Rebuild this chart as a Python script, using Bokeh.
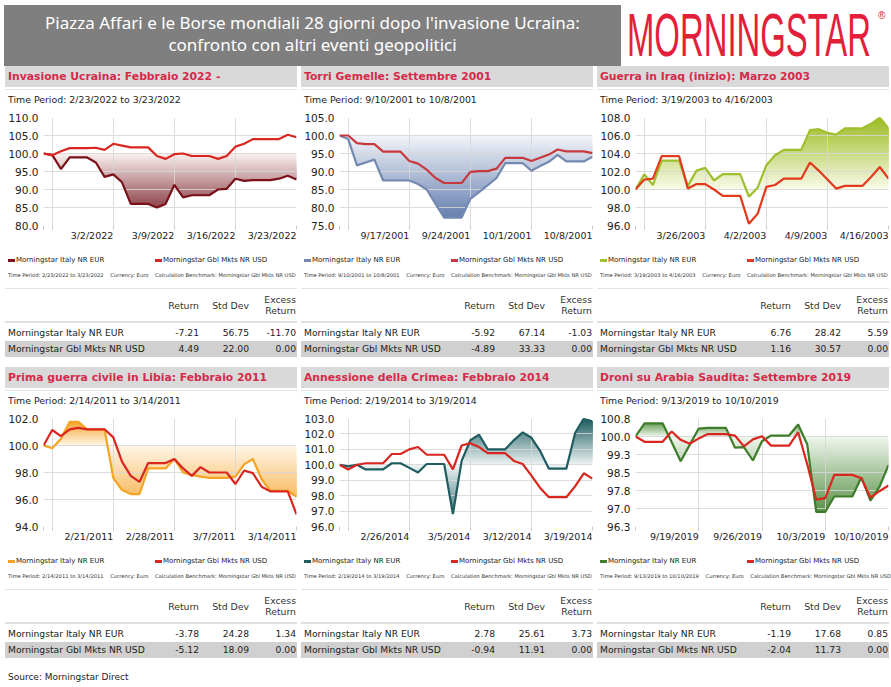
import numpy as np
import pandas as pd
from bokeh.plotting import figure
from bokeh.layouts import column, row
from bokeh.models import Div, Range1d, FixedTicker, NumeralTickFormatter
from bokeh.embed import file_html
from bokeh.resources import INLINE

# ---------------- texts ----------------
HEADLINE = ["Piazza Affari e le Borse mondiali 28 giorni dopo l'invasione Ucraina:",
            "confronto con altri eventi geopolitici"]
BRAND = "MORNINGSTAR"
SOURCE = "Source: Morningstar Direct"
SERIES = ["Morningstar Italy NR EUR", "Morningstar Gbl Mkts NR USD"]
HEAD_RETURN = "Return"
HEAD_STD = "Std Dev"
HEAD_EXCESS = ["Excess", "Return"]

TITLES = ["Invasione Ucraina: Febbraio 2022 -",
          "Torri Gemelle: Settembre 2001",
          "Guerra in Iraq (inizio): Marzo 2003",
          "Prima guerra civile in Libia: Febbraio 2011",
          "Annessione della Crimea: Febbraio 2014",
          "Droni su Arabia Saudita: Settembre 2019"]
PERIOD_FROM = ["2/23/2022", "9/10/2001", "3/19/2003", "2/14/2011", "2/19/2014", "9/13/2019"]
PERIOD_TO = ["3/23/2022", "10/8/2001", "4/16/2003", "3/14/2011", "3/19/2014", "10/10/2019"]

# first calendar day drawn (base = 100) and weekly labelled ticks
AXIS_START = ["2022-02-22", "2001-09-09", "2003-03-18", "2011-02-13", "2014-02-18", "2019-09-12"]
START_GRID = [True, True, True, True, True, False]
WEEK_TICKS = [["2022-03-02", "2022-03-09", "2022-03-16", "2022-03-23"],
              ["2001-09-17", "2001-09-24", "2001-10-01", "2001-10-08"],
              ["2003-03-26", "2003-04-02", "2003-04-09", "2003-04-16"],
              ["2011-02-21", "2011-02-28", "2011-03-07", "2011-03-14"],
              ["2014-02-26", "2014-03-05", "2014-03-12", "2014-03-19"],
              ["2019-09-19", "2019-09-26", "2019-10-03", "2019-10-10"]]

Y_TICKS = [[80, 85, 90, 95, 100, 105, 110],
           [75, 80, 85, 90, 95, 100, 105],
           [96, 98, 100, 102, 104, 106, 108],
           [94, 96, 98, 100, 102],
           [96, 97, 98, 99, 100, 101, 102, 103],
           [96.25, 97.0, 97.75, 98.5, 99.25, 100.0, 100.75]]
Y_LABELS = [["80.0", "85.0", "90.0", "95.0", "100.0", "105.0", "110.0"],
            ["75.0", "80.0", "85.0", "90.0", "95.0", "100.0", "105.0"],
            ["96.0", "98.0", "100.0", "102.0", "104.0", "106.0", "108.0"],
            ["94.0", "96.0", "98.0", "100.0", "102.0"],
            ["96.0", "97.0", "98.0", "99.0", "100.0", "101.0", "102.0", "103.0"],
            ["96.3", "97.0", "97.8", "98.5", "99.3", "100.0", "100.8"]]

# ---------------- series (daily, base 100) ----------------
ITALY_UKRAINE = [100.0, 99.6, 95.7, 98.9, 98.9, 98.9, 97.5, 93.5, 94.2, 92.0, 86.0, 86.0, 86.0, 85.0, 86.0,
                 91.3, 87.8, 88.4, 88.4, 88.4, 90.0, 90.2, 93.0, 92.4, 92.6, 92.6, 92.6, 93.0, 93.8, 92.8]
GBL_UKRAINE = [100.0, 99.5, 100.6, 101.5, 101.5, 101.5, 101.6, 101.0, 102.7, 102.2, 101.7, 101.7, 101.7, 99.3, 98.5,
               99.8, 100.0, 99.3, 99.3, 99.3, 98.5, 99.3, 101.9, 102.7, 104.0, 104.0, 104.0, 104.0, 105.2, 104.5]
ITALY_TWIN_TOWERS = [100.0, 99.0, 91.7, 92.5, 93.3, 87.5, 87.5, 87.5, 87.5, 86.5, 85.0, 81.0, 77.2, 77.2, 77.2,
                     82.4, 84.3, 86.2, 88.2, 92.3, 92.3, 92.3, 90.2, 91.5, 92.7, 94.6, 92.8, 92.8, 92.8, 94.1]
GBL_TWIN_TOWERS = [100.0, 100.0, 97.9, 97.6, 97.6, 95.5, 95.5, 95.5, 92.9, 92.2, 90.5, 88.2, 86.8, 86.8, 86.8,
                   89.9, 90.1, 90.1, 90.8, 93.8, 93.8, 93.8, 92.9, 93.8, 94.7, 96.1, 95.6, 95.6, 95.6, 95.1]
ITALY_IRAQ = [100.0, 101.7, 100.5, 103.2, 103.2, 103.2, 100.4, 102.1, 102.4, 101.0, 101.7, 101.7, 101.7, 99.2, 100.2,
              102.7, 103.8, 104.4, 104.4, 104.4, 106.6, 106.7, 106.3, 106.1, 106.8, 106.8, 106.8, 107.3, 108.0, 106.8]
GBL_IRAQ = [100.0, 101.1, 101.2, 103.7, 103.7, 103.7, 100.1, 100.6, 100.6, 100.0, 99.3, 99.3, 99.3, 96.2, 97.3,
            100.3, 100.5, 101.2, 101.2, 101.2, 103.0, 102.1, 101.1, 100.1, 100.4, 100.4, 100.4, 101.4, 102.5, 101.2]
ITALY_LIBYA = [100.0, 99.8, 100.5, 101.75, 101.75, 101.2, 101.2, 101.2, 97.6, 96.7, 96.4, 96.4, 98.3, 98.3, 98.3,
               99.0, 98.0, 97.8, 97.7, 97.6, 97.6, 97.6, 97.7, 98.6, 99.0, 97.5, 96.65, 96.65, 96.65, 96.2]
GBL_LIBYA = [100.0, 101.15, 100.7, 101.2, 101.3, 101.2, 101.2, 101.2, 100.6, 98.8, 97.75, 97.3, 98.7, 98.7, 98.7,
             99.0, 98.3, 97.75, 98.4, 98.0, 98.0, 98.0, 97.15, 98.15, 97.95, 96.95, 96.6, 96.6, 96.6, 94.9]
ITALY_CRIMEA = [100.0, 99.9, 100.0, 99.7, 99.7, 99.7, 100.1, 100.1, 99.8, 99.5, 100.05, 100.05, 100.05, 96.8, 100.25,
                101.6, 101.95, 101.0, 101.0, 101.0, 101.6, 102.1, 101.75, 100.9, 99.75, 99.75, 99.75, 102.05, 103.0, 102.8]
GBL_CRIMEA = [100.0, 99.7, 100.0, 100.1, 100.1, 100.1, 100.7, 100.7, 101.0, 101.15, 100.65, 100.65, 100.65, 99.7, 101.25,
              101.4, 101.15, 100.75, 100.75, 100.75, 100.25, 100.05, 99.3, 98.5, 97.9, 97.9, 97.9, 98.6, 99.45, 99.1]
ITALY_DRONES = [100.0, 100.55, 100.55, 100.55, 99.77, 98.97, 99.65, 100.33, 100.36, 100.36, 100.36, 99.54, 99.56,
                99.0, 99.8, 100.04, 100.04, 100.04, 100.5, 99.68, 96.86, 96.86, 97.5, 97.5, 97.5, 98.3, 97.33, 97.9, 98.81]
GBL_DRONES = [100.0, 99.78, 99.78, 99.78, 100.21, 99.86, 99.7, 99.92, 100.1, 100.1, 100.1, 100.04, 99.59,
              99.88, 100.01, 99.62, 99.62, 99.62, 100.18, 98.85, 97.37, 97.43, 98.4, 98.4, 98.4, 98.26, 97.45, 97.72, 97.96]

ITALY = [ITALY_UKRAINE, ITALY_TWIN_TOWERS, ITALY_IRAQ, ITALY_LIBYA, ITALY_CRIMEA, ITALY_DRONES]
GBL = [GBL_UKRAINE, GBL_TWIN_TOWERS, GBL_IRAQ, GBL_LIBYA, GBL_CRIMEA, GBL_DRONES]

# ---------------- statistics tables ----------------
RETURN_ITALY = [-7.21, -5.92, 6.76, -3.78, 2.78, -1.19]
STD_ITALY = [56.75, 67.14, 28.42, 24.28, 25.61, 17.68]
EXCESS_ITALY = [-11.70, -1.03, 5.59, 1.34, 3.73, 0.85]
RETURN_GBL = [4.49, -4.89, 1.16, -5.12, -0.94, -2.04]
STD_GBL = [22.00, 33.33, 30.57, 18.09, 11.91, 11.73]
EXCESS_GBL = [0.00, 0.00, 0.00, 0.00, 0.00, 0.00]

# ---------------- colours ----------------
ITALY_LINE = ["#7a1119", "#7489b2", "#9fbf2c", "#f5a425", "#1f5d61", "#3e7d2a"]
FILL_LIGHT = ["#faf1f1", "#f2f5f9", "#f9fbea", "#fff6e8", "#eef4f4", "#f0f7ed"]
FILL_DARK = ["#690a11", "#5873a7", "#9cbb22", "#f49a14", "#1b5b5f", "#3b7e27"]
GBL_LINE = ["#d9261f", "#c8383f", "#e23a1c", "#d9261f", "#d9261f", "#d9261f"]
TITLE_RED = "#d52a4a"
BRAND_RED = "#e3203a"

PW = 292  # panel width
FONT = "DejaVu Sans"


def mix(c1, c2, f):
    a = [int(c1[i:i + 2], 16) for i in (1, 3, 5)]
    b = [int(c2[i:i + 2], 16) for i in (1, 3, 5)]
    return "#" + "".join(f"{int(round(x + (y - x) * f)):02x}" for x, y in zip(a, b))


def with_crossings(xs, s, level):
    """same polyline, with the points where it meets `level` made explicit"""
    px, py = [xs[0]], [s[0]]
    for k in range(len(s) - 1):
        a, b = s[k] - level, s[k + 1] - level
        if a * b < 0:
            f = a / (a - b)
            px.append(xs[k] + f * (xs[k + 1] - xs[k]))
            py.append(level)
        px.append(xs[k + 1])
        py.append(s[k + 1])
    return np.array(px), np.array(py)


def ms(d):
    return pd.Timestamp(d).value / 1e6


def md_label(d):
    t = pd.Timestamp(d)
    return f"{t.month}/{t.day}/{t.year}"


def make_chart(i):
    italy = np.array(ITALY[i], dtype=float)
    gbl = np.array(GBL[i], dtype=float)
    dates = pd.date_range(AXIS_START[i], periods=len(italy), freq="D")
    xs = np.array([ms(d) for d in dates])
    yt = Y_TICKS[i]
    lo, hi = yt[0], yt[-1]

    p = figure(width=PW, height=142, x_axis_type="datetime", output_backend="svg",
               toolbar_location=None, x_range=Range1d(xs[0], xs[-1]), y_range=Range1d(lo, hi),
               min_border_left=37, min_border_right=1, min_border_top=10, min_border_bottom=17,
               outline_line_color=None, background_fill_color="white", border_fill_color="white")

    # gradient fill between the index and the 100 base line (darker towards the plot edge)
    n = 40
    for edge, cmp in ((hi, np.maximum), (lo, np.minimum)):
        for k in range(n):
            level = 100 + (edge - 100) * k / n
            px, py = with_crossings(xs, italy, level)
            y2 = cmp(py, level)
            if np.allclose(y2, level):
                continue
            col = mix(FILL_LIGHT[i], FILL_DARK[i], (k + 0.5) / n)
            r = p.varea(x=px, y1=level, y2=y2, fill_color=col, fill_alpha=1.0)
            r.level = "image"

    p.line(xs, italy, line_color=ITALY_LINE[i], line_width=2.2)
    p.line(xs, gbl, line_color=GBL_LINE[i], line_width=2.2)

    # x axis: ticks / grid at the start and weekly; labels right-aligned on their tick
    week_ms = [ms(d) for d in WEEK_TICKS[i]]
    grid_ms = [float(xs[0])] + ([float(xs[1])] if START_GRID[i] else []) + week_ms
    p.xaxis.ticker = FixedTicker(ticks=grid_ms)
    p.xgrid.ticker = FixedTicker(ticks=grid_ms)
    ov = {t: "" for t in grid_ms}
    for d, t in zip(WEEK_TICKS[i], week_ms):
        ov[t] = md_label(d)
    p.xaxis.major_label_overrides = ov
    p.xaxis.major_label_orientation = 0.0  # numeric orientation -> labels end at their tick
    p.xaxis.major_label_text_font = FONT
    p.xaxis.major_label_text_font_size = "9.5px"
    p.xaxis.major_label_text_color = "#222222"
    p.xaxis.major_label_standoff = 6
    p.xaxis.axis_line_color = None
    p.xaxis.major_tick_line_color = "#c8c8c8"
    p.xaxis.major_tick_out = 4
    p.xaxis.major_tick_in = 0
    p.xaxis.minor_tick_line_color = None

    p.yaxis.ticker = FixedTicker(ticks=yt)
    p.yaxis.formatter = NumeralTickFormatter(format="0.0")
    p.yaxis.major_label_overrides = {float(t): lab for t, lab in zip(yt, Y_LABELS[i])}
    p.yaxis.axis_line_color = None
    p.yaxis.major_tick_line_color = None
    p.yaxis.minor_tick_line_color = None
    p.yaxis.major_tick_out = 0
    p.yaxis.major_tick_in = 0
    p.yaxis.major_label_standoff = 5
    p.yaxis.major_label_text_font = FONT
    p.yaxis.major_label_text_font_size = "10.5px"
    p.yaxis.major_label_text_color = "#222222"

    p.xgrid.grid_line_color = "#d6d6d6"
    p.ygrid.grid_line_color = "#d6d6d6"
    p.xgrid.grid_line_alpha = 0.85
    p.ygrid.grid_line_alpha = 0.85
    return p


def title_div(i):
    html = (f'<div style="width:{PW}px;height:21px;background:#d9d9d9;color:{TITLE_RED};'
            f'font-family:\'{FONT}\';font-weight:bold;font-size:10.8px;line-height:21px;'
            f'padding-left:3px;box-sizing:border-box;white-space:nowrap;overflow:hidden">{TITLES[i]}</div>'
            f'<div style="margin-top:2px;border-top:1px solid #e2e2e2;width:{PW}px;height:0"></div>')
    return Div(text=html, width=PW, height=25, margin=0)


def period_div(i):
    html = (f'<div style="font-family:\'{FONT}\';font-size:9.4px;line-height:16px;color:#222;'
            f'padding-left:3px;white-space:nowrap">Time Period: {PERIOD_FROM[i]} to {PERIOD_TO[i]}</div>')
    return Div(text=html, width=PW, height=16, margin=0)


def fmt(v):
    return f"{v:.2f}"


def bottom_div(i):
    f = f"font-family:'{FONT}';white-space:nowrap;position:absolute;"
    sw = "display:inline-block;width:7px;height:3px;vertical-align:middle;margin-right:1px;"
    small = (f"Time Period: {PERIOD_FROM[i]} to {PERIOD_TO[i]}&nbsp;&nbsp;&nbsp;&nbsp;Currency: Euro"
             f"&nbsp;&nbsp;&nbsp;&nbsp;Calculation Benchmark: {SERIES[1]}")
    rows = [(SERIES[0], RETURN_ITALY[i], STD_ITALY[i], EXCESS_ITALY[i], "transparent", 76),
            (SERIES[1], RETURN_GBL[i], STD_GBL[i], EXCESS_GBL[i], "#d0d0d0", 92)]
    html = f'<div style="position:relative;width:{PW}px;height:118px;color:#222">'
    html += (f'<div style="{f}left:3px;top:6px;font-size:7px;line-height:10px">'
             f'<span style="{sw}background:{ITALY_LINE[i]}"></span>{SERIES[0]}</div>')
    html += (f'<div style="{f}left:150px;top:6px;font-size:7px;line-height:10px">'
             f'<span style="{sw}background:{GBL_LINE[i]}"></span>{SERIES[1]}</div>')
    html += f'<div style="{f}left:3px;top:23px;font-size:5.2px;line-height:6px;color:#333">{small}</div>'
    html += f'<div style="position:absolute;left:0;top:39px;width:{PW}px;border-top:1px solid #e4e4e4"></div>'
    hs = f"{f}font-size:9.3px;line-height:11px;text-align:right;color:#333;"
    html += f'<div style="{hs}right:98px;top:51px">{HEAD_RETURN}</div>'
    html += f'<div style="{hs}right:48px;top:51px">{HEAD_STD}</div>'
    html += f'<div style="{hs}right:1px;top:45px">{HEAD_EXCESS[0]}<br>{HEAD_EXCESS[1]}</div>'
    html += f'<div style="position:absolute;left:0;top:72px;width:{PW}px;border-top:2px solid #e0e0e0"></div>'
    for name, r, s, e, bg, top in rows:
        rs = f"{f}font-size:9.2px;line-height:16px;top:0;"
        html += (f'<div style="position:absolute;left:0;top:{top}px;width:{PW}px;height:16px;background:{bg}">'
                 f'<div style="{rs}left:3px">{name}</div>'
                 f'<div style="{rs}right:98px;text-align:right">{fmt(r)}</div>'
                 f'<div style="{rs}right:48px;text-align:right">{fmt(s)}</div>'
                 f'<div style="{rs}right:1px;text-align:right">{fmt(e)}</div></div>')
    html += '</div>'
    return Div(text=html, width=PW, height=118, margin=0)


def panel(i):
    return column(title_div(i), period_div(i), make_chart(i), bottom_div(i), spacing=0)


banner = Div(text=(f'<div style="width:617px;height:61px;background:#7f7f7f;color:#ffffff;'
                   f'font-family:\'Noto Sans\';font-size:17px;line-height:22px;text-align:center;'
                   f'padding-top:7px;box-sizing:border-box;white-space:nowrap">{HEADLINE[0]}<br>{HEADLINE[1]}</div>'),
             width=617, height=61, margin=0)
logo = Div(text=(f'<svg width="266" height="61" style="overflow:visible;display:block" '
                 f'xmlns="http://www.w3.org/2000/svg">'
                 f'<text transform="translate(6,51) scale(1,1.9)" x="0" y="0" '
                 f'font-family="Liberation Sans, sans-serif" '
                 f'font-size="32.5" fill="{BRAND_RED}" textLength="244" lengthAdjust="spacingAndGlyphs">{BRAND}</text>'
                 f'<text x="257" y="14" font-family="DejaVu Sans" font-size="10" fill="{BRAND_RED}">&#174;</text></svg>'),
           width=266, height=61, margin=0, styles={"overflow": "visible"})
source = Div(text=(f'<div style="font-family:\'{FONT}\';font-size:9px;line-height:15px;color:#222;'
                   f'padding-left:4px;white-space:nowrap">{SOURCE}</div>'),
             width=300, height=15, margin=0)

layout = column(row(banner, logo, spacing=0),
                row(panel(0), panel(1), panel(2), spacing=4, margin=(0, 0, 0, 1)),
                row(panel(3), panel(4), panel(5), spacing=4, margin=(0, 0, 0, 1)),
                source, spacing=0, margin=(5, 0, 0, 4))

open("out.html", "w").write(file_html(layout, INLINE))
